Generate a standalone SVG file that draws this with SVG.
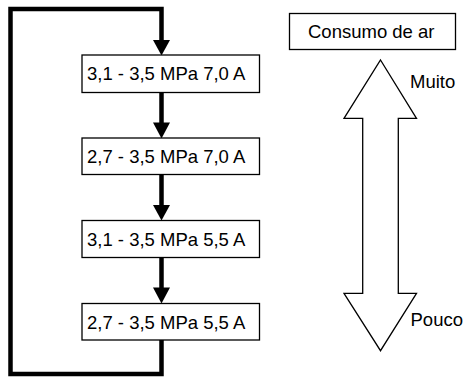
<svg xmlns="http://www.w3.org/2000/svg" width="464" height="377" viewBox="0 0 464 377">
  <style>
    .box { fill: #ffffff; stroke: #000000; stroke-width: 1.3; }
    .lbl { font-family: "Liberation Sans", Arial, sans-serif; font-size: 18.5px; fill: #000000; }
    .flow { fill: none; stroke: #000000; stroke-width: 4.5; }
    .head { fill: #000000; }
    .big { fill: #ffffff; stroke: #000000; stroke-width: 1.3; stroke-linejoin: miter; }
  </style>

  <!-- connectors: return loop and downward arrows -->
  <g id="connectors">
    <polyline class="flow" points="161.5,339 161.5,374 10.5,374 10.5,9 161.5,9 161.5,41"/>
    <polygon class="head" points="153,40 170,40 161.5,55.5"/>
    <line class="flow" x1="161.5" y1="92" x2="161.5" y2="124"/>
    <polygon class="head" points="153,122.5 170,122.5 161.5,138.5"/>
    <line class="flow" x1="161.5" y1="174" x2="161.5" y2="206"/>
    <polygon class="head" points="153,205 170,205 161.5,220.5"/>
    <line class="flow" x1="161.5" y1="257" x2="161.5" y2="289"/>
    <polygon class="head" points="153,287.5 170,287.5 161.5,303.5"/>
  </g>

  <g id="step1">
    <rect class="box" x="82" y="55" width="177.5" height="37.5"/>
    <text class="lbl" x="87" y="80">3,1 - 3,5 MPa 7,0 A</text>
  </g>
  <g id="step2">
    <rect class="box" x="82" y="138" width="177.5" height="36.5"/>
    <text class="lbl" x="87" y="163">2,7 - 3,5 MPa 7,0 A</text>
  </g>
  <g id="step3">
    <rect class="box" x="82" y="220.5" width="177.5" height="37"/>
    <text class="lbl" x="87" y="245.5">3,1 - 3,5 MPa 5,5 A</text>
  </g>
  <g id="step4">
    <rect class="box" x="82" y="303.5" width="177.5" height="36.5"/>
    <text class="lbl" x="87" y="328.5">2,7 - 3,5 MPa 5,5 A</text>
  </g>

  <!-- air consumption scale -->
  <g id="consumo">
    <rect class="box" x="289.5" y="13.5" width="166" height="36"/>
    <text class="lbl" x="308" y="37.5">Consumo de ar</text>
  </g>
  <g id="scale-arrow">
    <polygon class="big" points="380.5,60 416.5,118.3 398.3,118.3 398.3,293.3 416.5,293.3 380.5,350.7 344,293.3 362.7,293.3 362.7,118.3 344,118.3"/>
  </g>
  <g id="muito">
    <text class="lbl" x="410" y="87.5">Muito</text>
  </g>
  <g id="pouco">
    <text class="lbl" x="410.5" y="325.5">Pouco</text>
  </g>
</svg>
